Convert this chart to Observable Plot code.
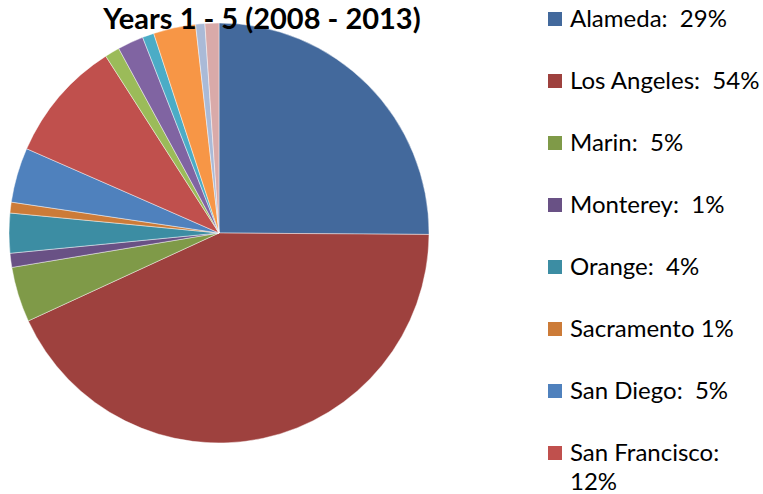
<!DOCTYPE html>
<html>
<head>
<meta charset="utf-8">
<script src="https://cdn.jsdelivr.net/npm/d3@7"></script>
<script src="https://cdn.jsdelivr.net/npm/@observablehq/plot@0.6"></script>
<style>
  html, body { margin: 0; padding: 0; background: #fff; }
  #wrap { position: relative; width: 763px; height: 494px; font-family: Lato, "Open Sans", sans-serif; }
  #chart { position: absolute; left: 0; top: 0; }
  #title { position: absolute; left: 62px; width: 400px; top: 0px; text-align: center; font-weight: bold; font-size: 29px; color: #000; z-index: 2; white-space: nowrap; }
  #legend { position: absolute; left: 548px; top: 0; width: 215px; }
  .item { position: absolute; left: 0; display: flex; align-items: flex-start; font-size: 24px; color: #000; }
  .sw { width: 14px; height: 14px; margin-top: 9px; margin-right: 8px; flex: none; }
  .lbl { width: 194px; white-space: pre-wrap; line-height: 29px; }
</style>
</head>
<body>
<div id="wrap">
  <div id="chart"></div>
  <div id="title"></div>
  <div id="legend"></div>
</div>
<script>
const title = "Years 1 - 5 (2008 - 2013)";
// slices, clockwise from 12 o'clock (share of pie, %)
const counties = ["Alameda", "Los Angeles", "Marin", "Monterey", "Orange", "Sacramento", "San Diego", "San Francisco",
  "Slice 9", "Slice 10", "Slice 11", "Slice 12", "Slice 13", "Slice 14"];
const shares = [25.1, 43.0, 4.25, 1.08, 3.06, 0.83, 4.22, 9.36, 1.14, 2.0, 0.89, 3.25, 0.71, 1.07];
const colors = ["#43699c", "#9e413e", "#7f9a48", "#695185", "#3c8da3", "#cc7b38", "#4f81bd", "#c0504d",
  "#9bbb59", "#8064a2", "#4bacc6", "#f79646", "#aabad7", "#d9aaa9"];
const legendLabels = ["Alameda:  29%", "Los Angeles:  54%", "Marin:  5%", "Monterey:  1%", "Orange:  4%",
  "Sacramento 1%", "San Diego:  5%", "San Francisco:  12%"];

const data = counties.map((c, i) => ({county: c, share: shares[i]}));
const color = Plot.scale({color: {type: "ordinal", domain: counties, range: colors}});

function pieMark(rows) {
  return (index, scales, values, dimensions) => {
    const {width, height, marginLeft, marginRight, marginTop, marginBottom} = dimensions;
    const w = width - marginLeft - marginRight, h = height - marginTop - marginBottom;
    const r = Math.min(w, h) / 2;
    const cx = marginLeft + w / 2, cy = marginTop + h / 2;
    const arcs = d3.pie().sort(null).value(d => d.share)(rows);
    const arc = d3.arc().innerRadius(0).outerRadius(r);
    const g = d3.create("svg:g").attr("transform", `translate(${cx},${cy})`);
    g.selectAll("path").data(arcs).join("path")
      .attr("d", arc)
      .attr("fill", d => color.apply(d.data.county))
      .attr("stroke", "#ffffff")
      .attr("stroke-opacity", 0.55)
      .attr("stroke-width", 0.8)
      .attr("stroke-linejoin", "round");
    return g.node();
  };
}

const plot = Plot.plot({
  width: 438,
  height: 494,
  marginLeft: 9, marginRight: 9, marginTop: 23, marginBottom: 51,
  marks: [pieMark(data)]
});
document.getElementById("chart").appendChild(plot);
document.getElementById("title").textContent = title;

const legend = document.getElementById("legend");
legendLabels.forEach((t, i) => {
  const item = document.createElement("div");
  item.className = "item";
  item.style.top = (3 + i * 62) + "px";
  const sw = document.createElement("div");
  sw.className = "sw";
  sw.style.background = color.apply(counties[i]);
  const lbl = document.createElement("div");
  lbl.className = "lbl";
  lbl.textContent = t;
  item.appendChild(sw); item.appendChild(lbl);
  legend.appendChild(item);
});
</script>
</body>
</html>
